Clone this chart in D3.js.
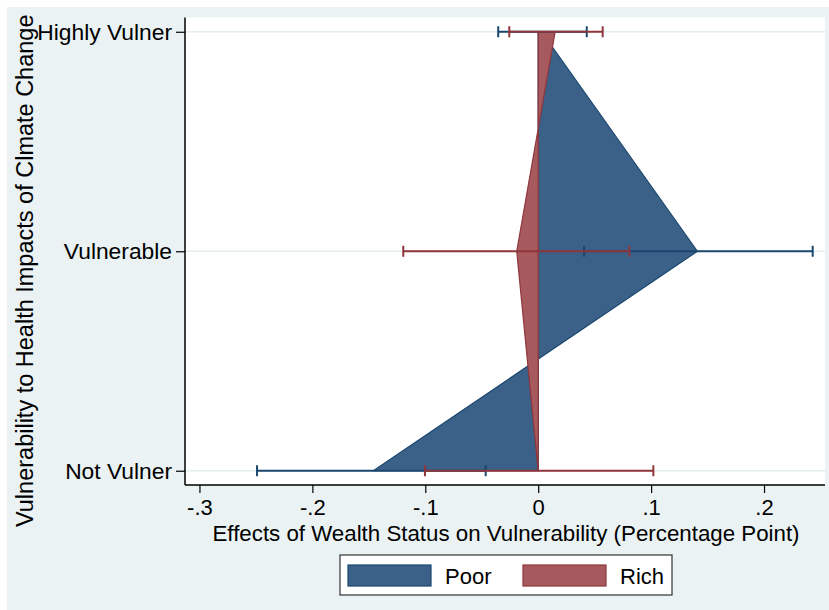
<!DOCTYPE html>
<html>
<head>
<meta charset="utf-8">
<script src="https://cdn.jsdelivr.net/npm/d3@7"></script>
<style>
  html, body { margin: 0; padding: 0; background: #ffffff; }
  svg { display: block; font-family: "Liberation Sans", Arial, sans-serif; }
</style>
</head>
<body>
<svg id="chart" width="829" height="610"></svg>
<script>
// ---- Data ----
const categories = ["Not Vulner", "Vulnerable", "Highly Vulner"];
const catPos = [1, 2, 3];
const poorEst = [-0.146, 0.141, 0.003];
const poorLo  = [-0.249, 0.0406, -0.0354];
const poorHi  = [-0.0465, 0.2431, 0.043];
const richEst = [0.0, -0.019, 0.015];
const richLo  = [-0.1003, -0.1195, -0.0256];
const richHi  = [0.102, 0.0807, 0.0571];
const xTicks = [-0.3, -0.2, -0.1, 0, 0.1, 0.2];
const xTickLabels = ["-.3", "-.2", "-.1", "0", ".1", ".2"];
const seriesNames = ["Poor", "Rich"];

// ---- Styles ----
const bg = "#eaf2f3";
const poorFill = "#3c6188", poorLine = "#1a476f";
const richFill = "#a65a5e", richLine = "#90353b";

const svg = d3.select("#chart");
const W = 829, H = 610;
const plot = { left: 185, right: 825, top: 17.5, bottom: 485 };

svg.append("rect").attr("x", 7).attr("y", 7).attr("width", W - 7).attr("height", H - 7).attr("fill", bg);
svg.append("rect").attr("x", plot.left).attr("y", plot.top)
  .attr("width", plot.right - plot.left).attr("height", plot.bottom - plot.top).attr("fill", "#ffffff");

const x = d3.scaleLinear().domain([-0.3128, 0.254]).range([plot.left, plot.right]);
const y = d3.scaleLinear().domain([0.935, 3.065]).range([plot.bottom, plot.top]);

// grid lines
svg.append("g").selectAll("line").data(catPos).join("line")
  .attr("x1", plot.left).attr("x2", plot.right)
  .attr("y1", d => y(d)).attr("y2", d => y(d))
  .attr("stroke", "#e3ecee").attr("stroke-width", 1.5);

// areas
function rows(est) { return catPos.map((p, i) => ({ p, v: est[i] })); }
const area = d3.area().x0(x(0)).x1(d => x(d.v)).y(d => y(d.p));
svg.append("path").datum(rows(poorEst)).attr("d", area)
  .attr("fill", poorFill).attr("stroke", poorLine).attr("stroke-width", 1.2).attr("stroke-linejoin", "miter");
svg.append("path").datum(rows(richEst)).attr("d", area)
  .attr("fill", richFill).attr("stroke", richLine).attr("stroke-width", 1.2).attr("stroke-linejoin", "miter");

// error bars
function errorBars(lo, hi, color) {
  const g = svg.append("g").attr("stroke", color).attr("stroke-width", 2).attr("fill", "none");
  const d = catPos.map((p, i) => ({ p, lo: lo[i], hi: hi[i] }));
  g.selectAll(".h").data(d).join("line")
    .attr("x1", e => x(e.lo)).attr("x2", e => x(e.hi))
    .attr("y1", e => y(e.p)).attr("y2", e => y(e.p));
  g.selectAll(".cl").data(d).join("line")
    .attr("x1", e => x(e.lo)).attr("x2", e => x(e.lo))
    .attr("y1", e => y(e.p) - 5.5).attr("y2", e => y(e.p) + 5.5);
  g.selectAll(".ch").data(d).join("line")
    .attr("x1", e => x(e.hi)).attr("x2", e => x(e.hi))
    .attr("y1", e => y(e.p) - 5.5).attr("y2", e => y(e.p) + 5.5);
}
errorBars(poorLo, poorHi, poorLine);
errorBars(richLo, richHi, richLine);

// axes
const xAxis = d3.axisBottom(x).tickValues(xTicks).tickFormat((d, i) => xTickLabels[i]).tickSize(8).tickPadding(6);
const gx = svg.append("g").attr("transform", `translate(0,${plot.bottom})`).call(xAxis);
gx.select(".domain").attr("d", `M${plot.left},0H${plot.right}`).attr("stroke", "#000").attr("stroke-width", 1.5);
gx.selectAll(".tick line").attr("stroke", "#000").attr("stroke-width", 1.2);
gx.selectAll(".tick text").attr("font-size", 22).attr("fill", "#000")
  .attr("font-family", "'Liberation Sans', Arial, sans-serif");

const yAxis = d3.axisLeft(y).tickValues(catPos).tickFormat((d, i) => categories[i]).tickSize(9).tickPadding(4);
const gy = svg.append("g").attr("transform", `translate(${plot.left},0)`).call(yAxis);
gy.select(".domain").attr("d", `M0,${plot.top}V${plot.bottom}`).attr("stroke", "#000").attr("stroke-width", 1.5);
gy.selectAll(".tick line").attr("stroke", "#000").attr("stroke-width", 1.2);
gy.selectAll(".tick text").attr("font-size", 22.8).attr("fill", "#000")
  .attr("font-family", "'Liberation Sans', Arial, sans-serif");

// axis titles
svg.append("text").attr("x", (plot.left + plot.right) / 2 + 1).attr("y", 541)
  .attr("text-anchor", "middle").attr("font-size", 22.3).attr("fill", "#000")
  .text("Effects of Wealth Status on Vulnerability (Percentage Point)");
svg.append("text").attr("transform", "translate(33,527) rotate(-90)")
  .attr("text-anchor", "start").attr("font-size", 23.5).attr("fill", "#000")
  .text("Vulnerability to Health Impacts of Clmate Change");

// legend
const lg = svg.append("g");
lg.append("rect").attr("x", 340).attr("y", 555).attr("width", 332).attr("height", 40)
  .attr("fill", "#fff").attr("stroke", "#333").attr("stroke-width", 1.2);
const legendItems = [
  { name: seriesNames[0], fill: poorFill, line: poorLine, x: 348 },
  { name: seriesNames[1], fill: richFill, line: richLine, x: 523 }
];
lg.selectAll(".sw").data(legendItems).join("rect")
  .attr("x", d => d.x).attr("y", 565).attr("width", 83).attr("height", 21)
  .attr("fill", d => d.fill).attr("stroke", d => d.line).attr("stroke-width", 1.2);
lg.selectAll(".lt").data(legendItems).join("text")
  .attr("x", d => d.x + 97).attr("y", 584).attr("font-size", 22).attr("fill", "#000")
  .text(d => d.name);
</script>
</body>
</html>
